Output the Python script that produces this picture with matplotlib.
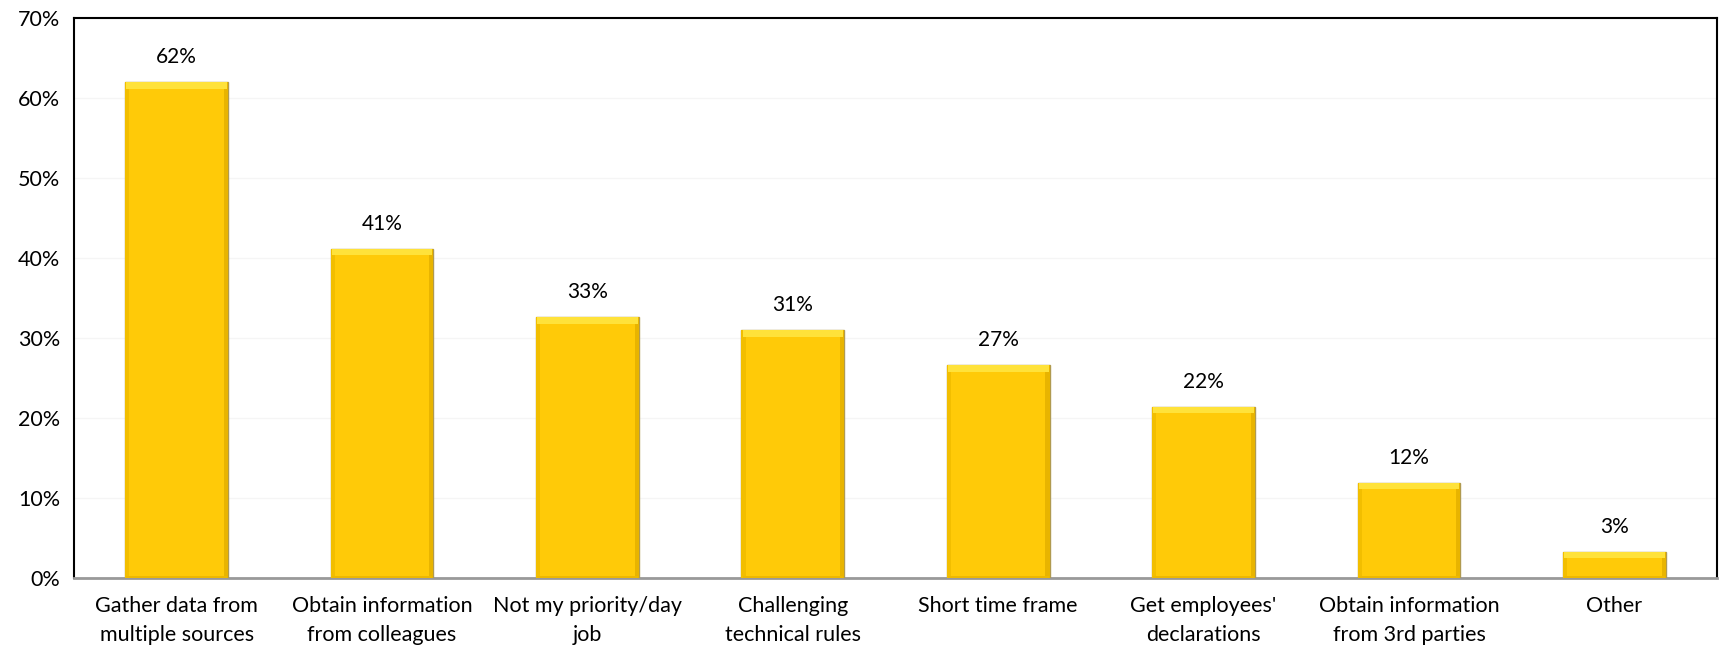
import matplotlib
matplotlib.use("Agg")
import matplotlib.pyplot as plt
from matplotlib.ticker import PercentFormatter
import numpy as np

categories = ["Gather data from\nmultiple sources", "Obtain information\nfrom colleagues",
              "Not my priority/day\njob", "Challenging\ntechnical rules", "Short time frame",
              "Get employees'\ndeclarations", "Obtain information\nfrom 3rd parties", "Other"]
values = [0.62, 0.412, 0.326, 0.31, 0.266, 0.214, 0.119, 0.033]
labels = ["62%", "41%", "33%", "31%", "27%", "22%", "12%", "3%"]

plt.rcParams['font.family'] = ['Lato', 'DejaVu Sans']

fig = plt.figure(figsize=(17.21, 6.51), dpi=100)
ax = fig.add_axes([0.043, 0.112, 0.9547, 0.86])

x = np.arange(len(categories))
w = 0.5
ax.bar(x, values, width=w, color='#FFCA08', edgecolor='#B09A50', linewidth=1.0, zorder=3)
# bevel shading
for xi, v in zip(x, values):
    ax.bar(xi - w / 2 + 0.01, v, width=0.02, color='#F2BE00', linewidth=0, zorder=4)
    ax.bar(xi + w / 2 - 0.01, v, width=0.02, color='#E8B400', linewidth=0, zorder=4)
    bev = min(0.008, v * 0.25)
    ax.bar(xi, bev, bottom=v - bev, width=w - 0.01, color='#FFE23A', linewidth=0, zorder=5)
    ax.bar(xi, 0.003, bottom=0.0, width=w - 0.01, color='#EDB800', linewidth=0, zorder=5)

for xi, v, lab in zip(x, values, labels):
    ax.annotate(lab, (xi, v), xytext=(0, 18), textcoords='offset points',
                ha='center', va='center', fontsize=15)

ax.set_xlim(-0.5, len(categories) - 0.5)
ax.set_ylim(0, 0.7)
ax.set_yticks(np.arange(0, 0.71, 0.1))
ax.yaxis.set_major_formatter(PercentFormatter(1.0, decimals=0))
ax.set_xticks(x)
ax.set_xticklabels(categories, fontsize=15.5, linespacing=1.55)
ax.tick_params(axis='both', length=0)
ax.tick_params(axis='y', labelsize=15.5, pad=10)
ax.tick_params(axis='x', pad=13)
ax.grid(axis='y', color='#F5F5F5', linewidth=1, zorder=0)
ax.set_axisbelow(True)

for s in ['left', 'top', 'right']:
    ax.spines[s].set_color('black')
    ax.spines[s].set_linewidth(1.5)
ax.spines['bottom'].set_color('#999999')
ax.spines['bottom'].set_linewidth(2)

fig.savefig("out.png", dpi=100)
